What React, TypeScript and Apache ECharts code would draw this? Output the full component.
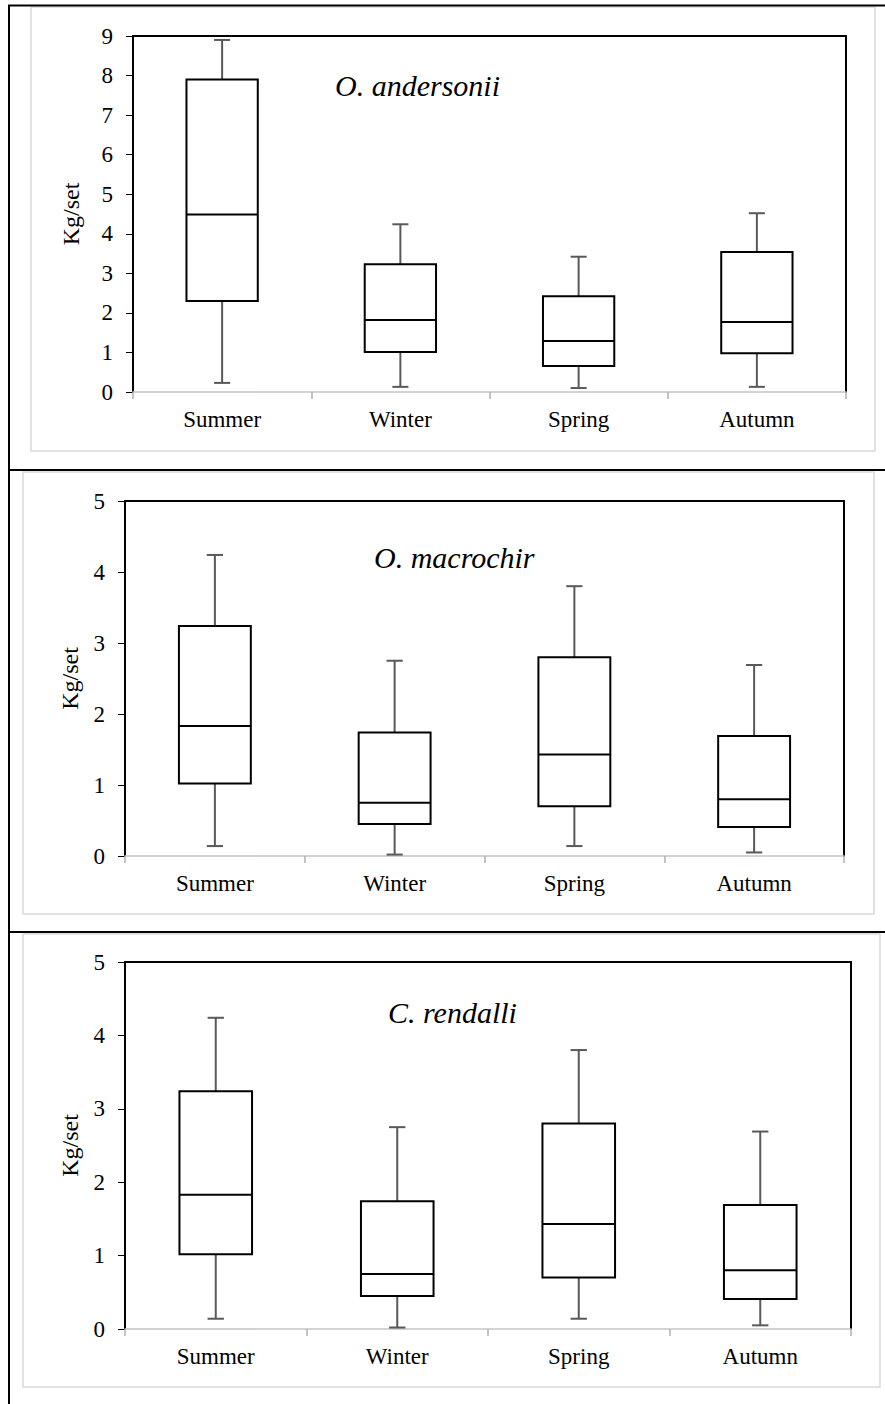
import React, { useEffect, useRef } from "react";
import * as echarts from "echarts";

// Seasons on the category axis
const seasons = ["Summer", "Winter", "Spring", "Autumn"];

// Five-number summaries per season: [min, Q1, median, Q3, max] (kg per set)
const andersonii = [
  [0.23, 2.3, 4.49, 7.9, 8.9],
  [0.13, 1.01, 1.82, 3.23, 4.24],
  [0.1, 0.66, 1.29, 2.42, 3.42],
  [0.13, 0.98, 1.77, 3.54, 4.52],
];
const macrochir = [
  [0.14, 1.02, 1.83, 3.24, 4.24],
  [0.02, 0.45, 0.75, 1.74, 2.75],
  [0.14, 0.7, 1.43, 2.8, 3.8],
  [0.05, 0.41, 0.8, 1.69, 2.69],
];
const rendalli = [
  [0.14, 1.02, 1.83, 3.24, 4.24],
  [0.02, 0.45, 0.75, 1.74, 2.75],
  [0.14, 0.7, 1.43, 2.8, 3.8],
  [0.05, 0.41, 0.8, 1.69, 2.69],
];

const speciesNames = ["O. andersonii", "O. macrochir", "C. rendalli"];
const yMax = [9, 5, 5];
const yLabel = "Kg/set";

const FONT = "'Liberation Serif', 'Times New Roman', serif";

const panels = [
  { data: andersonii, grid: { left: 133, top: 36, right: 39, height: 356 }, nameGap: 50, title: { x: 335, y: 85 } },
  { data: macrochir, grid: { left: 125, top: 501, right: 41, height: 355 }, nameGap: 43, title: { x: 374, y: 557 } },
  { data: rendalli, grid: { left: 125, top: 962, right: 34, height: 367 }, nameGap: 43, title: { x: 388, y: 1012 } },
];

function renderBox(params: any, api: any) {
  const cat = api.value(0);
  const pMin = api.coord([cat, api.value(1)]);
  const pQ1 = api.coord([cat, api.value(2)]);
  const pMed = api.coord([cat, api.value(3)]);
  const pQ3 = api.coord([cat, api.value(4)]);
  const pMax = api.coord([cat, api.value(5)]);
  const band = api.size([1, 0])[0];
  const halfBox = (band * 0.4) / 2;
  const halfCap = (band * 0.09) / 2;
  const cx = pMed[0];
  const whisker = { stroke: "#595959", lineWidth: 2 };
  const boxLine = { stroke: "#000", lineWidth: 2 };
  return {
    type: "group",
    children: [
      { type: "line", shape: { x1: cx, y1: pQ3[1], x2: cx, y2: pMax[1] }, style: whisker },
      { type: "line", shape: { x1: cx - halfCap, y1: pMax[1], x2: cx + halfCap, y2: pMax[1] }, style: whisker },
      { type: "line", shape: { x1: cx, y1: pQ1[1], x2: cx, y2: pMin[1] }, style: whisker },
      { type: "line", shape: { x1: cx - halfCap, y1: pMin[1], x2: cx + halfCap, y2: pMin[1] }, style: whisker },
      {
        type: "rect",
        shape: { x: cx - halfBox, y: pQ3[1], width: halfBox * 2, height: pQ1[1] - pQ3[1] },
        style: { fill: "#fff", ...boxLine },
      },
      { type: "line", shape: { x1: cx - halfBox, y1: pMed[1], x2: cx + halfBox, y2: pMed[1] }, style: boxLine },
    ],
  };
}

export default function App() {
  const ref = useRef<HTMLDivElement>(null);

  useEffect(() => {
    document.body.style.margin = "0";
    if (!ref.current) return;
    const chart = echarts.init(ref.current, undefined, { renderer: "svg" });

    const grids: any[] = [];
    const xAxes: any[] = [];
    const yAxes: any[] = [];
    const series: any[] = [];

    panels.forEach((p, i) => {
      grids.push({ ...p.grid, containLabel: false });
      // bottom category axis
      xAxes.push({
        type: "category",
        gridIndex: i,
        data: seasons,
        position: "bottom",
        axisLine: { show: true, onZero: false, lineStyle: { color: "#c4c4c4", width: 1.5 } },
        axisTick: { show: true, length: 7, lineStyle: { color: "#b0b0b0", width: 1.5 } },
        axisLabel: { color: "#000", fontFamily: FONT, fontSize: 23, margin: 16 },
        splitLine: { show: false },
      });
      // top frame edge
      xAxes.push({
        type: "category",
        gridIndex: i,
        data: seasons,
        position: "top",
        axisLine: { show: true, onZero: false, lineStyle: { color: "#000", width: 2 } },
        axisTick: { show: false },
        axisLabel: { show: false },
        splitLine: { show: false },
      });
      // left value axis
      yAxes.push({
        type: "value",
        gridIndex: i,
        min: 0,
        max: yMax[i],
        interval: 1,
        position: "left",
        name: yLabel,
        nameLocation: "middle",
        nameGap: p.nameGap,
        nameRotate: 90,
        nameTextStyle: { color: "#000", fontFamily: FONT, fontSize: 24 },
        axisLine: { show: true, onZero: false, lineStyle: { color: "#000", width: 2 } },
        axisTick: { show: true, length: 7, lineStyle: { color: "#000", width: 1 } },
        axisLabel: { color: "#000", fontFamily: FONT, fontSize: 23, margin: 20 },
        splitLine: { show: false },
      });
      // right frame edge
      yAxes.push({
        type: "value",
        gridIndex: i,
        min: 0,
        max: yMax[i],
        interval: 1,
        position: "right",
        axisLine: { show: true, onZero: false, lineStyle: { color: "#000", width: 2 } },
        axisTick: { show: false },
        axisLabel: { show: false },
        splitLine: { show: false },
      });
      series.push({
        type: "custom",
        name: speciesNames[i],
        xAxisIndex: i * 2,
        yAxisIndex: i * 2,
        renderItem: renderBox,
        encode: { x: 0, y: [1, 2, 3, 4, 5] },
        data: p.data.map((v, k) => [k, ...v]),
        z: 5,
      });
    });

    const frame = { fill: "none", stroke: "#d9d9d9", lineWidth: 1.5 };
    const rule = { stroke: "#000", lineWidth: 2 };

    const graphic: any[] = [
      // outer table rules
      { type: "line", shape: { x1: 9, y1: 5, x2: 9, y2: 1404 }, style: rule, z: 1 },
      { type: "line", shape: { x1: 8, y1: 5.5, x2: 885, y2: 5.5 }, style: rule, z: 1 },
      { type: "line", shape: { x1: 8, y1: 470, x2: 885, y2: 470 }, style: rule, z: 1 },
      { type: "line", shape: { x1: 8, y1: 932, x2: 885, y2: 932 }, style: rule, z: 1 },
      // light chart-area frames
      { type: "rect", shape: { x: 31, y: 7, width: 844, height: 444 }, style: frame, z: 0 },
      { type: "rect", shape: { x: 23, y: 472, width: 851, height: 442 }, style: frame, z: 0 },
      { type: "rect", shape: { x: 23, y: 934, width: 857, height: 453 }, style: frame, z: 0 },
    ];
    panels.forEach((p, i) => {
      graphic.push({
        type: "text",
        x: p.title.x,
        y: p.title.y,
        style: {
          text: speciesNames[i],
          fill: "#000",
          font: `italic 30px ${FONT}`,
          textAlign: "left",
          textVerticalAlign: "middle",
        },
        z: 10,
      });
    });

    chart.setOption({
      animation: false,
      backgroundColor: "#fff",
      grid: grids,
      xAxis: xAxes,
      yAxis: yAxes,
      series,
      graphic,
    });

    return () => chart.dispose();
  }, []);

  return <div ref={ref} style={{ width: 885, height: 1404 }} />;
}
